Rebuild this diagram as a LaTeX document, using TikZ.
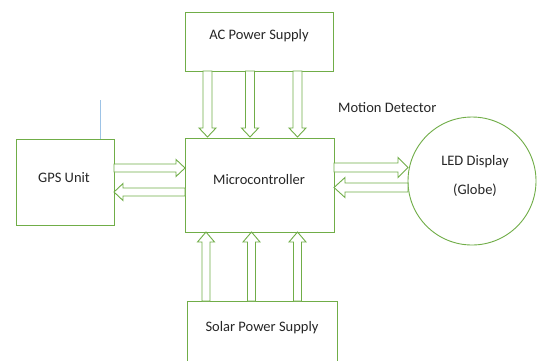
\documentclass[tikz,border=0pt]{standalone}
\usepackage{fontspec}
\setmainfont{Carlito}
\definecolor{grn}{HTML}{70AD47}
\definecolor{antc}{HTML}{9DC3E6}
\definecolor{txt}{HTML}{262626}
\tikzset{
  blk/.style={draw=grn, line width=0.9pt, fill=white, inner sep=0pt},
  barrow/.style={draw=grn, line width=0.9pt, fill=white, line join=miter},
  lbl/.style={font=\fontsize{14.5}{16}\selectfont, text=txt, inner sep=0pt}
}
% vertical block arrow: x, y start, y tip, shaft half, head half, head length
\newcommand{\vbarrow}[6]{%
  \pgfmathsetmacro{\sgn}{(#3>#2)?1:-1}%
  \draw[barrow] ({#1-#4},{#2}) -- ({#1-#4},{#3-\sgn*#6}) -- ({#1-#5},{#3-\sgn*#6}) -- ({#1},{#3}) -- ({#1+#5},{#3-\sgn*#6}) -- ({#1+#4},{#3-\sgn*#6}) -- ({#1+#4},{#2}) -- cycle;}
% horizontal block arrow: y, x start, x tip, shaft half, head half, head length
\newcommand{\hbarrow}[6]{%
  \pgfmathsetmacro{\sgn}{(#3>#2)?1:-1}%
  \draw[barrow] ({#2},{#1-#4}) -- ({#3-\sgn*#6},{#1-#4}) -- ({#3-\sgn*#6},{#1-#5}) -- ({#3},{#1}) -- ({#3-\sgn*#6},{#1+#5}) -- ({#3-\sgn*#6},{#1+#4}) -- ({#2},{#1+#4}) -- cycle;}
\begin{document}
\begin{tikzpicture}[x=1pt,y=-1pt]
\useasboundingbox (0,0) rectangle (537,360);
\fill[white] (0,0) rectangle (537,360);
% boxes
\node[blk, minimum width=148pt, minimum height=59pt] (ac) at (259,41.5) {};
\node[blk, minimum width=149pt, minimum height=94pt] (mc) at (259.5,185) {};
\node[blk, minimum width=98pt, minimum height=86pt] (gps) at (65,182) {};
\begin{scope}
\clip (0,0) rectangle (537,360);
\node[blk, minimum width=150pt, minimum height=80pt, anchor=north west] (solar) at (187,301) {};
\node[blk, circle, minimum size=128pt] (led) at (472,181) {};
\end{scope}
\node[lbl] (tac) at (259,35.5) {AC Power Supply};
\node[lbl] (tmc) at (259,180) {Microcontroller};
\node[lbl] (tgps) at (64,177.5) {GPS Unit};
\node[lbl] (tsol) at (262,328) {Solar Power Supply};
\node[lbl] (tled) at (475,162) {LED Display};
\node[lbl] (tglb) at (475,190) {(Globe)};
\node[lbl, anchor=west] (md) at (338,108) {Motion Detector};
% antenna
\draw[antc, line width=0.9pt] (100,100) -- (gps.north -| 100,0);
% down arrows from AC
\vbarrow{207.5}{71}{137}{4.5}{8.5}{9}
\vbarrow{250}{71}{137}{4.5}{8.5}{9}
\vbarrow{297.5}{71}{137}{4.5}{8.5}{9}
% up arrows from solar
\vbarrow{206}{301}{232}{4}{8.5}{10}
\vbarrow{251.5}{301}{232}{4}{8.5}{10}
\vbarrow{297.5}{301}{232}{4}{8.5}{10}
% GPS arrows
\hbarrow{168}{114}{185}{4}{8.5}{9}
\hbarrow{192}{185}{114}{4}{8.5}{9}
% LED arrows
\hbarrow{167.5}{334}{408}{4.5}{10}{10}
\hbarrow{187.5}{408}{334}{4.5}{10}{11}
\end{tikzpicture}
\end{document}
